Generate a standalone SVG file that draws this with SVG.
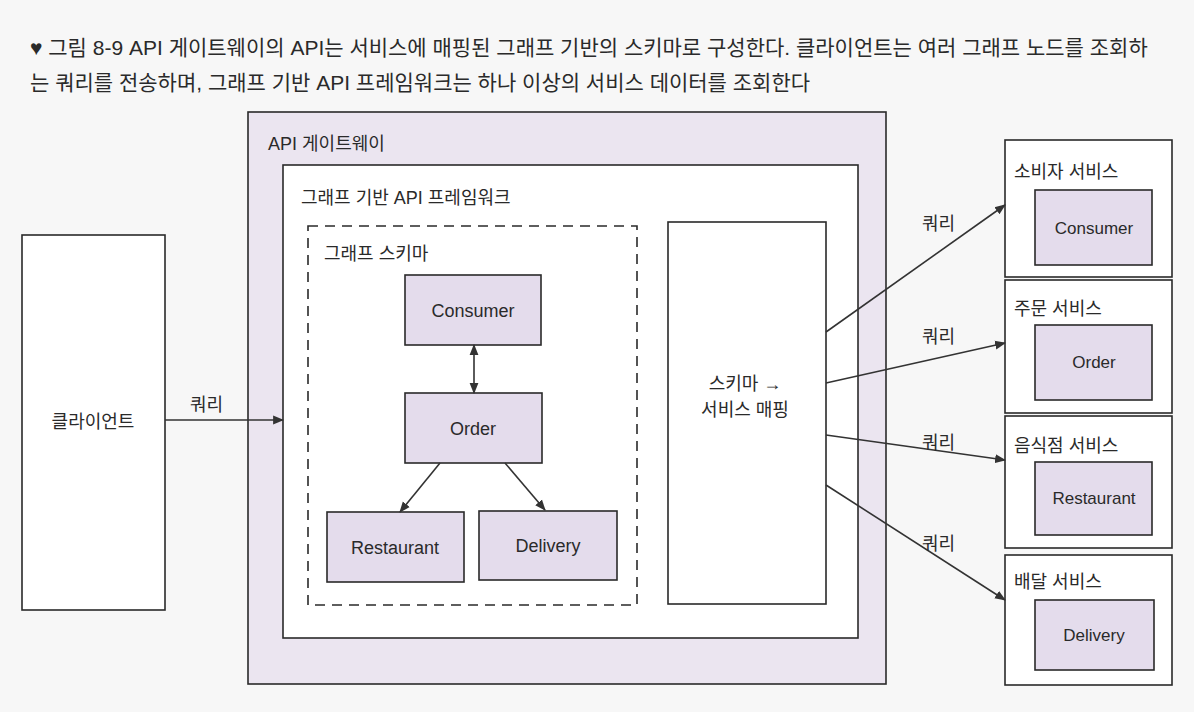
<svg xmlns="http://www.w3.org/2000/svg" width="1194" height="712" viewBox="0 0 1194 712">
<defs>
<marker id="ah" viewBox="0 0 10 10" refX="9" refY="5" markerWidth="11" markerHeight="11" markerUnits="userSpaceOnUse" orient="auto-start-reverse"><path d="M0,1 L10,5 L0,9 Z" fill="#333"/></marker>
<style>
text{font-family:"Liberation Sans","Noto Sans CJK KR",sans-serif;fill:#2a2a2a;}
.t{font-size:18px;}
.c{font-size:18px;text-anchor:middle;}
.cap{font-size:21px;}
.box{stroke:#2a2a2a;stroke-width:1.6;}
.node{fill:#e4dcec;stroke:#2a2a2a;stroke-width:1.6;}
.white{fill:#ffffff;stroke:#2a2a2a;stroke-width:1.6;}
.conn{stroke:#333;stroke-width:1.6;fill:none;marker-end:url(#ah);}
</style>
</defs>
<rect width="1194" height="712" fill="#f7f7f7"/>
<g id="caption">
<text class="cap" x="30" y="55">♥ 그림 8-9 API 게이트웨이의 API는 서비스에 매핑된 그래프 기반의 스키마로 구성한다. 클라이언트는 여러 그래프 노드를 조회하</text>
<text class="cap" x="30" y="90">는 쿼리를 전송하며, 그래프 기반 API 프레임워크는 하나 이상의 서비스 데이터를 조회한다</text>
</g>
<g id="client">
<rect class="white" x="22" y="235" width="143" height="375"/>
<text class="c" x="93" y="428">클라이언트</text>
</g>
<g id="gateway">
<rect class="box" x="248" y="112" width="638" height="572" fill="#ebe5f0"/>
<text class="t" x="268" y="150">API 게이트웨이</text>
</g>
<g id="framework">
<rect class="white" x="283" y="165" width="575" height="473"/>
<text class="t" x="301" y="204">그래프 기반 API 프레임워크</text>
</g>
<g id="schema">
<rect x="308" y="226" width="329" height="379" fill="none" stroke="#2a2a2a" stroke-width="1.6" stroke-dasharray="10,7"/>
<text class="t" x="324" y="260">그래프 스키마</text>
</g>
<g id="consumer-node">
<rect class="node" x="405" y="275" width="136" height="70"/>
<text class="c" x="473" y="317">Consumer</text>
</g>
<g id="order-node">
<rect class="node" x="405" y="393" width="137" height="70"/>
<text class="c" x="473" y="435">Order</text>
</g>
<g id="restaurant-node">
<rect class="node" x="327" y="512" width="137" height="70"/>
<text class="c" x="395" y="554">Restaurant</text>
</g>
<g id="delivery-node">
<rect class="node" x="479" y="511" width="138" height="69"/>
<text class="c" x="548" y="552">Delivery</text>
</g>
<g id="mapping">
<rect class="white" x="668" y="222" width="158" height="382"/>
<text class="c" x="745" y="390">스키마 →</text>
<text class="c" x="745" y="416">서비스 매핑</text>
</g>
<g id="consumer-service">
<rect class="white" x="1005" y="140" width="167" height="137"/>
<text class="t" x="1014" y="178">소비자 서비스</text>
<rect class="node" x="1035" y="190" width="117" height="75"/>
<text class="c" x="1094" y="234" style="font-size:17px">Consumer</text>
</g>
<g id="order-service">
<rect class="white" x="1005" y="280" width="167" height="133"/>
<text class="t" x="1014" y="315">주문 서비스</text>
<rect class="node" x="1035" y="325" width="117" height="75"/>
<text class="c" x="1094" y="368" style="font-size:17px">Order</text>
</g>
<g id="restaurant-service">
<rect class="white" x="1005" y="416" width="167" height="132"/>
<text class="t" x="1014" y="452">음식점 서비스</text>
<rect class="node" x="1035" y="462" width="117" height="73"/>
<text class="c" x="1094" y="504" style="font-size:17px">Restaurant</text>
</g>
<g id="delivery-service">
<rect class="white" x="1005" y="555" width="167" height="130"/>
<text class="t" x="1014" y="588">배달 서비스</text>
<rect class="node" x="1035" y="600" width="119" height="70"/>
<text class="c" x="1094" y="641" style="font-size:17px">Delivery</text>
</g>
<g id="connectors">
<line class="conn" x1="165" y1="420" x2="283" y2="420"/>
<line class="conn" x1="474" y1="345" x2="474" y2="393" style="marker-start:url(#ah)"/>
<line class="conn" x1="440" y1="463" x2="400" y2="512"/>
<line class="conn" x1="505" y1="463" x2="545" y2="510"/>
<line class="conn" x1="826" y1="332" x2="1005" y2="205"/>
<line class="conn" x1="826" y1="383" x2="1005" y2="343"/>
<line class="conn" x1="826" y1="435" x2="1005" y2="460"/>
<line class="conn" x1="826" y1="485" x2="1005" y2="600"/>
<text class="t" x="190" y="411">쿼리</text>
<text class="t" x="922" y="230">쿼리</text>
<text class="t" x="922" y="343">쿼리</text>
<text class="t" x="922" y="449">쿼리</text>
<text class="t" x="922" y="550">쿼리</text>
</g>
</svg>
